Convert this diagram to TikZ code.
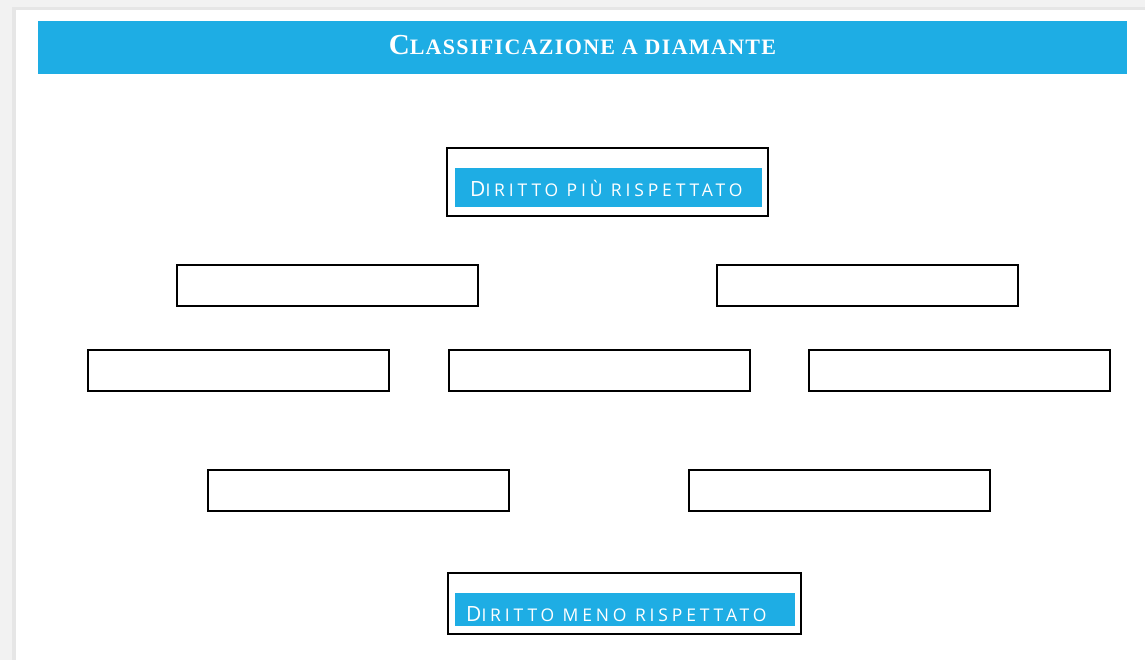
\documentclass[tikz,border=0pt]{standalone}
\usepackage{fontspec}
\setmainfont{Liberation Serif}
\newfontfamily\titlefont[LetterSpace=6]{Liberation Serif}
\newfontfamily\handfont[LetterSpace=22]{Open Sans}
\definecolor{barblue}{HTML}{1EADE4}
\definecolor{pagegrey}{HTML}{F2F2F2}
\definecolor{edgegrey}{HTML}{E6E6E6}
\tikzset{
  emptybox/.style={draw=black, line width=2pt, fill=white, minimum width=301pt, minimum height=41pt, inner sep=0pt},
  framebox/.style={draw=black, line width=2pt, fill=white, inner sep=0pt},
  bluebar/.style={fill=barblue, draw=none, inner sep=0pt},
  handtext/.style={text=white, inner sep=0pt, anchor=base west},
}
\begin{document}
\begin{tikzpicture}[x=1pt,y=-1pt]
\useasboundingbox (0,0) rectangle (1145,660);
% page background
\fill[pagegrey] (0,0) rectangle (1145,660);
\fill[edgegrey] (12,7) rectangle (1145,660);
\fill[white] (16,10) rectangle (1145,660);
% title bar
\node[bluebar, minimum width=1089pt, minimum height=53pt] (title) at (582.5,47.5) {};
\node[text=white, inner sep=0pt, anchor=base] (titletext) at (582.5,55) {\titlefont\bfseries{\fontsize{29}{29}\selectfont C}{\fontsize{22}{22}\selectfont LASSIFICAZIONE A DIAMANTE}};
% top box
\node[framebox, minimum width=321pt, minimum height=68pt] (top) at (607.5,182) {};
\node[bluebar, minimum width=307pt, minimum height=39pt] (topbar) at (608.5,187.5) {};
\node[handtext] (toptext) at (470,197) {\handfont{\fontsize{21}{21}\selectfont D}{\fontsize{17.5}{17.5}\selectfont IRITTO PIÙ RISPETTATO}};
% row 2
\node[emptybox] (r2a) at (327.5,285.5) {};
\node[emptybox] (r2b) at (867,285.5) {};
% row 3
\node[emptybox] (r3a) at (238.5,370) {};
\node[emptybox] (r3b) at (599,370) {};
\node[emptybox] (r3c) at (959,370) {};
% row 4
\node[emptybox] (r4a) at (358,490) {};
\node[emptybox] (r4b) at (839,490) {};
% bottom box
\node[framebox, minimum width=353pt, minimum height=61pt] (bottom) at (624.5,603.5) {};
\node[bluebar, minimum width=340pt, minimum height=33pt] (bottombar) at (625,609.5) {};
\node[handtext] (bottomtext) at (466,621) {\handfont{\fontsize{21}{21}\selectfont D}{\fontsize{17.5}{17.5}\selectfont IRITTO MENO RISPETTATO}};
\end{tikzpicture}
\end{document}
